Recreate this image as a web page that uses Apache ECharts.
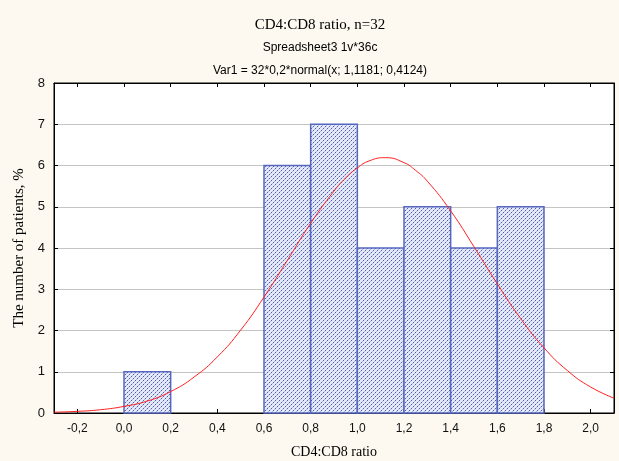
<!DOCTYPE html>
<html>
<head>
<meta charset="utf-8">
<script src="https://cdn.jsdelivr.net/npm/echarts@6/dist/echarts.min.js"></script>
<style>
  html, body { margin: 0; padding: 0; background: #fdf9f0; }
  #chart { width: 619px; height: 461px; }
</style>
</head>
<body>
<div id="chart"></div>
<script>
// histogram bins (left edge, right edge) and counts
const binStarts = [0.0, 0.2, 0.4, 0.6, 0.8, 1.0, 1.2, 1.4, 1.6]
const binEnds = [0.2, 0.4, 0.6, 0.8, 1.0, 1.2, 1.4, 1.6, 1.8]
const counts = [1, 0, 0, 6, 7, 4, 5, 4, 5]

// fitted normal curve
const curveX = [-0.3, -0.2, -0.1, 0.0, 0.1, 0.2, 0.3, 0.4, 0.5, 0.6, 0.7, 0.8, 0.9, 0.95,
  1.0, 1.05, 1.12, 1.2, 1.25, 1.3, 1.4, 1.5, 1.6, 1.7, 1.8, 1.9, 2.0, 2.1]
const curveY = [0.02, 0.04, 0.08, 0.16, 0.29, 0.52, 0.87, 1.36, 2.01, 2.81, 3.70, 4.60, 5.38, 5.70,
  5.94, 6.11, 6.19, 6.07, 5.88, 5.62, 4.90, 4.03, 3.13, 2.29, 1.58, 1.03, 0.63, 0.36]

const xTicks = [-0.2, 0.0, 0.2, 0.4, 0.6, 0.8, 1.0, 1.2, 1.4, 1.6, 1.8, 2.0]

// hatch pattern for the bars
function makeHatch() {
  const c = document.createElement('canvas')
  c.width = 4
  c.height = 4
  const ctx = c.getContext('2d')
  ctx.fillStyle = '#e6e9f6'
  ctx.fillRect(0, 0, 4, 4)
  for (let i = 0; i < 4; i++) {
    ctx.fillStyle = i % 2 ? '#aab5e2' : '#4a5db8'
    ctx.fillRect(3 - i, i, 1, 1)
  }
  return c
}

const chart = echarts.init(document.getElementById('chart'))
const hatch = { image: makeHatch(), repeat: 'repeat' }

const fmt = v => v.toFixed(1).replace('.', ',')
const tickStyle = { color: '#000' }

chart.setOption({
  backgroundColor: '#fdf9f0',
  animation: false,
  title: [
    { text: 'CD4:CD8 ratio, n=32', left: 315, top: 13, textAlign: 'center',
      textStyle: { fontFamily: 'Liberation Serif', fontSize: 15, fontWeight: 'normal', color: '#000' } },
    { text: 'Spreadsheet3 1v*36c', left: 315, top: 37, textAlign: 'center',
      textStyle: { fontFamily: 'Liberation Sans', fontSize: 12, fontWeight: 'normal', color: '#000' } },
    { text: 'Var1 = 32*0,2*normal(x; 1,1181; 0,4124)', left: 315, top: 60, textAlign: 'center',
      textStyle: { fontFamily: 'Liberation Sans', fontSize: 12, fontWeight: 'normal', color: '#000' } }
  ],
  grid: {
    left: 54, right: 5, top: 83, bottom: 48,
    outerBoundsMode: 'none',
    show: true, backgroundColor: '#fff', borderColor: '#000', borderWidth: 1
  },
  xAxis: [
    {
      type: 'value', min: -0.3, max: 2.1,
      name: 'CD4:CD8 ratio', nameLocation: 'middle', nameGap: 32,
      nameTextStyle: { fontFamily: 'Liberation Serif', fontSize: 14, color: '#000' },
      axisLine: { onZero: false, lineStyle: { color: '#000' } },
      axisTick: { inside: true, length: 4, customValues: xTicks, lineStyle: tickStyle },
      axisLabel: { customValues: xTicks, formatter: fmt, margin: 10,
        fontFamily: 'Liberation Sans', fontSize: 12, color: '#111' },
      splitLine: { show: false }
    },
    {
      type: 'value', min: -0.3, max: 2.1, position: 'top',
      axisLine: { onZero: false, lineStyle: { color: '#000' } },
      axisTick: { inside: true, length: 4, customValues: xTicks, lineStyle: tickStyle },
      axisLabel: { show: false },
      splitLine: { show: false }
    }
  ],
  yAxis: [
    {
      type: 'value', min: 0, max: 8, interval: 1,
      name: 'The number of patients, %', nameLocation: 'middle', nameGap: 27,
      nameTextStyle: { fontFamily: 'Liberation Serif', fontSize: 15, color: '#000' },
      axisLine: { show: true, onZero: false, lineStyle: { color: '#000' } },
      axisTick: { show: true, inside: true, length: 4, lineStyle: tickStyle },
      axisLabel: { margin: 9, fontFamily: 'Liberation Sans', fontSize: 13, color: '#111' },
      splitLine: { show: true, lineStyle: { color: '#c4c4c4', width: 1 } }
    },
    {
      type: 'value', min: 0, max: 8, interval: 1, position: 'right',
      axisLine: { show: true, onZero: false, lineStyle: { color: '#000' } },
      axisTick: { show: true, inside: true, length: 4, lineStyle: tickStyle },
      axisLabel: { show: false },
      splitLine: { show: false }
    }
  ],
  series: [
    {
      type: 'custom',
      data: counts.map((c, i) => [binStarts[i], binEnds[i], c]),
      renderItem: (params, api) => {
        const h = api.value(2)
        if (!h) return null
        const p0 = api.coord([api.value(0), h])
        const p1 = api.coord([api.value(1), 0])
        return {
          type: 'rect',
          shape: { x: p0[0], y: p0[1], width: p1[0] - p0[0], height: p1[1] - p0[1] },
          style: { fill: hatch, stroke: '#5567bf', lineWidth: 1.5 }
        }
      },
      z: 2
    },
    {
      type: 'line',
      data: curveX.map((x, i) => [x, curveY[i]]),
      smooth: true,
      showSymbol: false,
      lineStyle: { color: '#ff2020', width: 1 },
      z: 3
    }
  ]
})
</script>
</body>
</html>
